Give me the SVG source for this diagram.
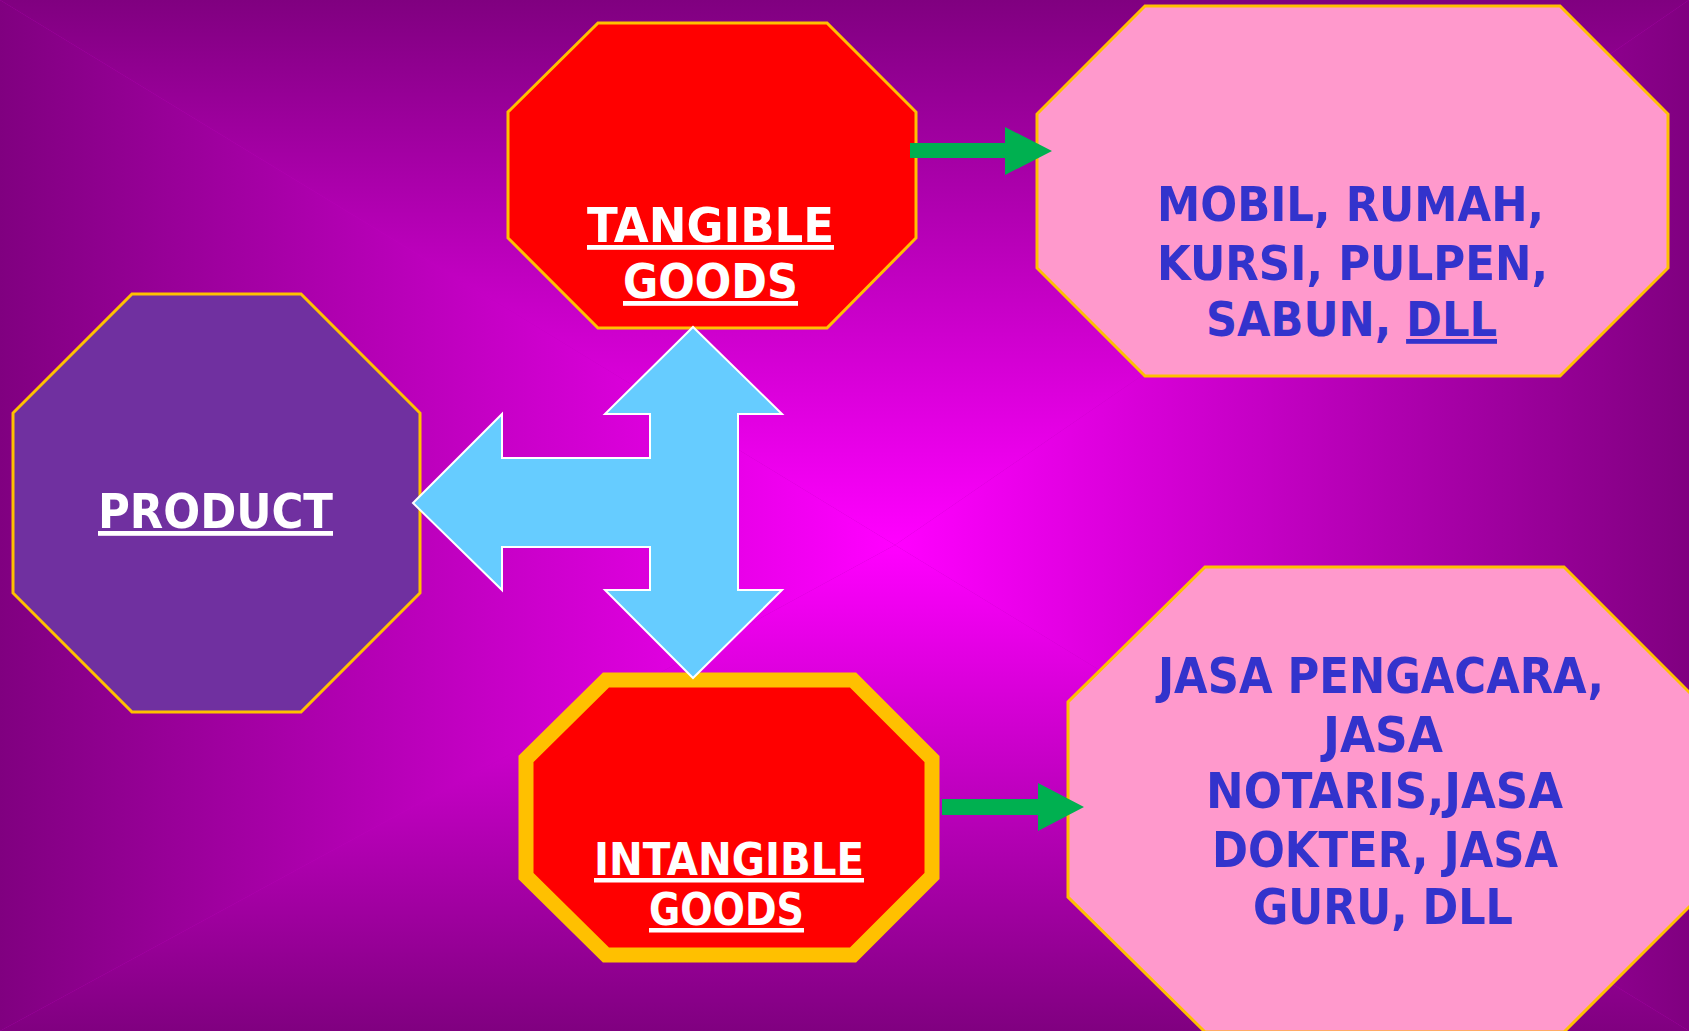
<svg xmlns="http://www.w3.org/2000/svg" width="1689" height="1031" viewBox="0 0 1689 1031">
<defs>
<linearGradient id="gTop" gradientUnits="userSpaceOnUse" x1="0" y1="0" x2="0" y2="545"><stop offset="0" stop-color="#800080"/><stop offset="1" stop-color="#FF00FF"/></linearGradient>
<linearGradient id="gBot" gradientUnits="userSpaceOnUse" x1="0" y1="1031" x2="0" y2="545"><stop offset="0" stop-color="#800080"/><stop offset="1" stop-color="#FF00FF"/></linearGradient>
<linearGradient id="gLeft" gradientUnits="userSpaceOnUse" x1="0" y1="0" x2="895" y2="0"><stop offset="0" stop-color="#800080"/><stop offset="1" stop-color="#FF00FF"/></linearGradient>
<linearGradient id="gRight" gradientUnits="userSpaceOnUse" x1="1689" y1="0" x2="895" y2="0"><stop offset="0" stop-color="#800080"/><stop offset="1" stop-color="#FF00FF"/></linearGradient>
</defs>
<style>
.oct{stroke:#FFC000;stroke-width:3;stroke-linejoin:miter}
.red{fill:#FF0000}
.pink{fill:#FF99CC}
.purple{fill:#7030A0}
.lblW{font-family:"DejaVu Sans Condensed","DejaVu Sans",Verdana,sans-serif;font-weight:bold;fill:#FFFFFF;text-anchor:middle;text-decoration:underline}
.lblB{font-family:"DejaVu Sans Condensed","DejaVu Sans",Verdana,sans-serif;font-weight:bold;fill:#3333CC;text-anchor:middle}
.green{fill:#00B050}
.blue{fill:#66CCFF;stroke:#FFFFFF;stroke-width:2;stroke-linejoin:miter}
</style>
<g id="background">
<rect x="0" y="0" width="1689" height="1031" fill="#C000C0"/>
<polygon points="0,0 1689,0 895,545" fill="url(#gTop)"/>
<polygon points="0,1031 1689,1031 895,545" fill="url(#gBot)"/>
<polygon points="0,0 0,1031 895,545" fill="url(#gLeft)"/>
<polygon points="1689,0 1689,1031 895,545" fill="url(#gRight)"/>
</g>
<g id="product">
<polygon class="oct purple" points="132,294 301,294 420,413 420,593 301,712 132,712 13,593 13,413"/>
<text class="lblW" x="215.5" y="528" font-size="48" textLength="235" lengthAdjust="spacingAndGlyphs">PRODUCT</text>
</g>
<g id="tangible">
<polygon class="oct red" points="598,23 827,23 916,112 916,238 827,328 598,328 508,238 508,112"/>
<text class="lblW" x="710.5" y="242" font-size="48" textLength="247" lengthAdjust="spacingAndGlyphs">TANGIBLE</text>
<text class="lblW" x="710.5" y="298" font-size="48" textLength="175" lengthAdjust="spacingAndGlyphs">GOODS</text>
</g>
<g id="intangible">
<polygon class="red" stroke="#FFC000" stroke-width="15" stroke-linejoin="miter" points="606,680 853,680 932,759 932,876 853,955 606,955 526,876 526,759"/>
<text class="lblW" x="729" y="875" font-size="45" textLength="270" lengthAdjust="spacingAndGlyphs">INTANGIBLE</text>
<text class="lblW" x="726.5" y="925" font-size="45" textLength="155" lengthAdjust="spacingAndGlyphs">GOODS</text>
</g>
<g id="tangible-examples">
<polygon class="oct pink" points="1145,6 1560,6 1668,114 1668,268 1560,376 1145,376 1037,268 1037,114"/>
<text class="lblB" x="1350.5" y="221" font-size="48" textLength="387" lengthAdjust="spacingAndGlyphs">MOBIL, RUMAH,</text>
<text class="lblB" x="1352.5" y="280" font-size="48" textLength="391" lengthAdjust="spacingAndGlyphs">KURSI, PULPEN,</text>
<text class="lblB" x="1351.5" y="336" font-size="48" textLength="291" lengthAdjust="spacingAndGlyphs">SABUN, <tspan text-decoration="underline">DLL</tspan></text>
</g>
<g id="intangible-examples">
<polygon class="oct pink" points="1205,567 1564,567 1699,702 1699,897 1564,1032 1205,1032 1068,897 1068,702"/>
<text class="lblB" x="1381" y="693" font-size="49" textLength="446" lengthAdjust="spacingAndGlyphs">JASA PENGACARA,</text>
<text class="lblB" x="1383" y="752" font-size="49" textLength="120" lengthAdjust="spacingAndGlyphs">JASA</text>
<text class="lblB" x="1384.5" y="808" font-size="49" textLength="357" lengthAdjust="spacingAndGlyphs">NOTARIS,JASA</text>
<text class="lblB" x="1385" y="867" font-size="49" textLength="346" lengthAdjust="spacingAndGlyphs">DOKTER, JASA</text>
<text class="lblB" x="1383" y="924" font-size="49" textLength="260" lengthAdjust="spacingAndGlyphs">GURU, DLL</text>
</g>
<g id="connectors">
<polygon class="blue" points="413,503 502,414 502,458 650,458 650,414 605,414 693,327 782,414 738,414 738,590 782,590 693,678 605,590 650,590 650,547 502,547 502,590"/>
<polygon class="green" points="910,143 1005,143 1005,127 1052,151 1005,175 1005,158 910,158"/>
<polygon class="green" points="942,799 1038,799 1038,783 1084,807 1038,831 1038,815 942,815"/>
</g>
</svg>
